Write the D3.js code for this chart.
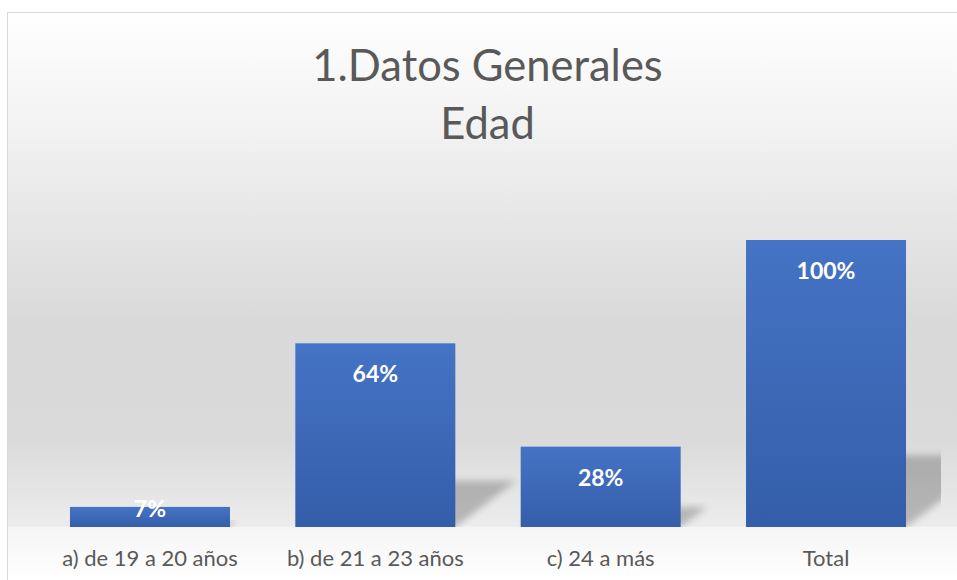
<!DOCTYPE html>
<html><head><meta charset="utf-8">
<script src="https://cdn.jsdelivr.net/npm/d3@7"></script>
<style>html,body{margin:0;padding:0;background:#fff;}svg{display:block;}</style>
</head><body>
<script>
const categories = ["a) de 19 a 20 años", "b) de 21 a 23 años", "c) 24 a más", "Total"];
const values = [7, 64, 28, 100];
const titleLines = ["1.Datos Generales", "Edad"];

const W = 957, H = 580;
const base = 527, topY = 240;
const svg = d3.select("body").append("svg").attr("width", W).attr("height", H);
const defs = svg.append("defs");

const bg = defs.append("linearGradient").attr("id","bg")
  .attr("gradientUnits","userSpaceOnUse").attr("y1",12).attr("y2",580).attr("x1",0).attr("x2",0);
[[0,"#ffffff"],[0.22,"#f1f1f1"],[0.55,"#d9d9d9"],[0.75,"#dadada"],[0.905,"#ececec"],[0.907,"#f5f5f5"],[1,"#ffffff"]]
  .forEach(([o,c])=>bg.append("stop").attr("offset",o).attr("stop-color",c));

const bar = defs.append("linearGradient").attr("id","bar").attr("x1",0).attr("y1",0).attr("x2",0).attr("y2",1);
bar.append("stop").attr("offset",0).attr("stop-color","#4573c5");
bar.append("stop").attr("offset",1).attr("stop-color","#345ea9");

const blur = defs.append("filter").attr("id","blur").attr("x","-20%").attr("y","-20%").attr("width","140%").attr("height","140%");
blur.append("feGaussianBlur").attr("stdDeviation",3.5);

defs.append("clipPath").attr("id","clip").append("rect").attr("x",8).attr("y",12).attr("width",933).attr("height",base-12);

svg.append("rect").attr("x",7.5).attr("y",12.5).attr("width",1000).attr("height",600)
  .attr("fill","url(#bg)").attr("stroke","#d9d9d9").attr("stroke-width",1);

const x = d3.scaleBand().domain(categories).range([37.3, 938.7]).paddingInner(0.29).paddingOuter(0.145);
const y = d3.scaleLinear().domain([0,100]).range([base, topY]);

const data = categories.map((c,i)=>({c, v: values[i]}));

// shadows
svg.append("g").attr("clip-path","url(#clip)").selectAll("polygon").data(data).join("polygon")
  .attr("points", d=>{
    const x0 = x(d.c), x1 = x0 + x.bandwidth(), h = base - y(d.v);
    const dx = 0.33*h, dy = 0.25*h;
    return [[x0,base],[x1,base],[x1+dx,base-dy],[x0+dx,base-dy]].map(p=>p.join(",")).join(" ");
  })
  .attr("fill","#000").attr("opacity",0.22).attr("filter","url(#blur)");

svg.append("g").selectAll("rect").data(data).join("rect")
  .attr("x", d=>x(d.c)).attr("width", x.bandwidth())
  .attr("y", d=>y(d.v)).attr("height", d=>base - y(d.v))
  .attr("fill","url(#bar)");

svg.append("g").selectAll("text").data(data).join("text")
  .attr("x", d=>x(d.c)+x.bandwidth()/2)
  .attr("y", d=>Math.min(y(d.v)+39, base-10))
  .attr("text-anchor","middle").attr("fill","#fff")
  .attr("font-family","Lato, sans-serif").attr("font-weight","bold").attr("font-size",23)
  .text(d=>Math.round(d.v)+"%");

const xAxis = svg.append("g").attr("transform",`translate(0,${base})`)
  .call(d3.axisBottom(x).tickSize(0).tickPadding(0));
xAxis.select(".domain").remove();
xAxis.selectAll("text").attr("y",39).attr("dy",0).attr("fill","#595959")
  .attr("font-family","Lato, sans-serif").attr("font-size",22);

svg.append("g").selectAll("text").data(titleLines).join("text")
  .attr("x",487.5).attr("y",(d,i)=>81+i*58).attr("text-anchor","middle")
  .attr("fill","#595959").attr("font-family","Lato, sans-serif").attr("font-size",43.5)
  .text(d=>d);
</script>
</body></html>
